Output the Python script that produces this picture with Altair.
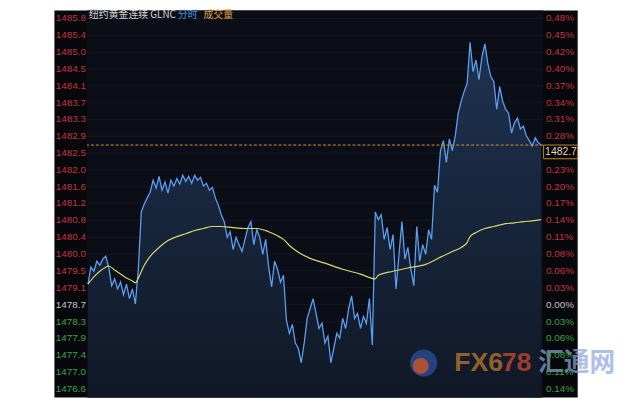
import altair as alt
import pandas as pd
import numpy as np

# ---- data ----
PRICE = [
    1479.21, 1479.63, 1479.53, 1479.78, 1479.68, 1479.83, 1479.90, 1479.63, 1479.17, 1479.34,
    1479.09, 1479.26, 1478.95, 1479.21, 1478.85, 1479.09, 1478.72, 1479.58, 1481.00, 1481.20,
    1481.35, 1481.49, 1481.79, 1481.59, 1481.88, 1481.54, 1481.74, 1481.47, 1481.79, 1481.64,
    1481.83, 1481.69, 1481.91, 1481.76, 1481.88, 1481.71, 1481.91, 1481.79, 1481.86, 1481.64,
    1481.71, 1481.54, 1481.61, 1481.35, 1481.17, 1480.93, 1480.76, 1480.37, 1480.51, 1480.07,
    1480.37, 1480.19, 1480.02, 1480.32, 1480.61, 1480.76, 1480.19, 1480.56, 1480.37, 1479.95,
    1480.32, 1479.63, 1479.14, 1479.78, 1479.58, 1479.26, 1479.43, 1478.31, 1477.99, 1478.21,
    1477.75, 1477.62, 1477.26, 1477.75, 1478.36, 1478.60, 1478.85, 1478.48, 1478.11, 1478.24,
    1477.75, 1477.92, 1477.26, 1477.62, 1477.99, 1477.87, 1478.36, 1478.11, 1478.60, 1478.92,
    1478.36, 1478.48, 1478.11, 1478.41, 1478.24, 1478.85, 1477.70, 1481.00, 1480.81, 1480.93,
    1480.32, 1480.61, 1480.07, 1480.44, 1479.09, 1479.95, 1480.76, 1479.83, 1480.12, 1479.58,
    1479.17, 1480.64, 1479.78, 1480.19, 1479.95, 1480.56, 1480.32, 1481.66, 1481.49, 1482.52,
    1482.77, 1482.23, 1482.81, 1482.52, 1482.89, 1483.45, 1483.75, 1483.99, 1484.19, 1485.21,
    1484.48, 1484.77, 1484.28, 1484.85, 1485.17, 1484.68, 1484.36, 1484.24, 1483.55, 1484.11,
    1483.75, 1483.55, 1483.45, 1482.96, 1483.21, 1483.33, 1483.06, 1483.13, 1482.89, 1482.77,
    1482.64, 1482.84, 1482.72, 1482.66,
]

AVG_IDX = [0, 2, 4, 6, 7, 9, 11, 13, 15, 16, 17, 19, 21, 24, 27, 30, 33, 36, 39, 42,
           45, 49, 53, 57, 61, 64, 66, 68, 71, 75, 80, 86, 92, 97, 98, 103, 108, 114, 119, 124,
           126, 128, 129, 131, 134, 137, 141, 144, 147, 150, 153]
AVG = [1479.21, 1479.39, 1479.53, 1479.63, 1479.66, 1479.56, 1479.46, 1479.36, 1479.29, 1479.24,
       1479.36, 1479.68, 1479.90, 1480.12, 1480.29, 1480.39, 1480.46, 1480.54, 1480.59, 1480.64,
       1480.64, 1480.61, 1480.59, 1480.59, 1480.51, 1480.41, 1480.32, 1480.17, 1480.00, 1479.85,
       1479.73, 1479.58, 1479.46, 1479.34, 1479.43, 1479.53, 1479.61, 1479.70, 1479.88, 1480.05,
       1480.12, 1480.24, 1480.39, 1480.49, 1480.59, 1480.64, 1480.71, 1480.73, 1480.76, 1480.78,
       1480.81]

TICK_PRICES = [1485.80, 1485.38, 1484.96, 1484.55, 1484.13, 1483.71, 1483.30, 1482.88,
               1482.46, 1482.04, 1481.62, 1481.21, 1480.79, 1480.37, 1479.95, 1479.54,
               1479.12, 1478.70, 1478.28, 1477.87, 1477.45, 1477.03, 1476.61]
LEFT_LABELS = ["1485.8", "1485.4", "1485.0", "1484.5", "1484.1", "1483.7", "1483.3", "1482.9",
               "1482.5", "1482.0", "1481.6", "1481.2", "1480.8", "1480.4", "1480.0", "1479.5",
               "1479.1", "1478.7", "1478.3", "1477.9", "1477.4", "1477.0", "1476.6"]
# the 0.25% label is hidden behind the last-price box in the reference
RIGHT_LABELS = ["0.48%", "0.45%", "0.42%", "0.40%", "0.37%", "0.34%", "0.31%", "0.28%",
                "", "0.23%", "0.20%", "0.17%", "0.14%", "0.11%", "0.08%", "0.06%",
                "0.03%", "0.00%", "0.03%", "0.06%", "0.08%", "0.11%", "0.14%"]

BASE = 1478.70
LAST_PRICE = 1482.66
LAST_LABEL = "1482.7"
TITLE_MAIN = "纽约黄金连续 GLNC"
TITLE_MODE = "分时"
TITLE_VOL = "成交量"

# ---- styling ----
W, H = 462, 392
Y_MIN, Y_MAX = 1476.398, 1485.998
RED, GREEN, NEUTRAL = "#c4343e", "#3aa548", "#c4c4c4"
LABEL_FONT = "Liberation Sans"

n = len(PRICE)
yscale = alt.Scale(domain=[Y_MIN, Y_MAX], zero=False, nice=False)
xscale = alt.Scale(domain=[-1 / 3, n - 1 + 2 / 3], zero=False, nice=False)

df = pd.DataFrame({"i": np.arange(n), "price": PRICE})
avg_df = pd.DataFrame({"i": AVG_IDX, "avg": AVG})
tick_df = pd.DataFrame({"p": TICK_PRICES, "left": LEFT_LABELS, "right": RIGHT_LABELS})
tick_df["col"] = np.where(tick_df["p"] > BASE + 0.01, RED,
                          np.where(tick_df["p"] < BASE - 0.01, GREEN, NEUTRAL))

one = pd.DataFrame({"k": [0]})

bg = alt.Chart(one).mark_rect(color="#07080b").encode(
    x=alt.value(-33), x2=alt.value(497), y=alt.value(0), y2=alt.value(H))
plotbg = alt.Chart(one).mark_rect(color="#0b0e16").encode(
    x=alt.value(0), x2=alt.value(W), y=alt.value(0), y2=alt.value(H))

grid = alt.Chart(tick_df).mark_rule(color="#131823", strokeWidth=1).encode(
    y=alt.Y("p:Q", scale=yscale, axis=None))

area = alt.Chart(df).mark_area(
    color=alt.Gradient(gradient="linear",
                       stops=[alt.GradientStop(color="#1e3250", offset=0),
                              alt.GradientStop(color="#101826", offset=1)],
                       x1=1, x2=1, y1=0, y2=1)
).encode(
    x=alt.X("i:Q", scale=xscale, axis=None),
    y=alt.Y("price:Q", scale=yscale, axis=None),
    y2=alt.datum(Y_MIN),
)

line = alt.Chart(df).mark_line(color="#5c9ef0", strokeWidth=1.3).encode(
    x=alt.X("i:Q", scale=xscale, axis=None),
    y=alt.Y("price:Q", scale=yscale, axis=None))

avg_line = alt.Chart(avg_df).mark_line(color="#d9d66c", strokeWidth=1.2, interpolate="monotone").encode(
    x=alt.X("i:Q", scale=xscale, axis=None),
    y=alt.Y("avg:Q", scale=yscale, axis=None))

last_df = pd.DataFrame({"p": [LAST_PRICE], "bot": [LAST_PRICE - 0.34],
                        "mid": [LAST_PRICE - 0.17], "lbl": [LAST_LABEL]})
dash = alt.Chart(last_df).mark_rule(color="#dc902c", strokeDash=[3, 2], strokeWidth=1).encode(
    y=alt.Y("p:Q", scale=yscale, axis=None))

left_lbl = alt.Chart(tick_df).mark_text(align="right", baseline="middle", font=LABEL_FONT,
                                        fontSize=10).encode(
    x=alt.value(-1), y=alt.Y("p:Q", scale=yscale, axis=None),
    text="left:N", color=alt.Color("col:N", scale=None))
right_lbl = alt.Chart(tick_df).mark_text(align="left", baseline="middle", font=LABEL_FONT,
                                         fontSize=10).encode(
    x=alt.value(W + 3), y=alt.Y("p:Q", scale=yscale, axis=None),
    text="right:N", color=alt.Color("col:N", scale=None))

box = alt.Chart(last_df).mark_rect(fill="#000000", stroke="#c98a2b", strokeWidth=1).encode(
    x=alt.value(W + 0.5), x2=alt.value(W + 35),
    y=alt.Y("p:Q", scale=yscale, axis=None), y2="bot:Q")
box_txt = alt.Chart(last_df).mark_text(align="left", baseline="middle", font=LABEL_FONT,
                                       fontSize=10.5, color="#ead9b4").encode(
    x=alt.value(W + 2), y=alt.Y("mid:Q", scale=yscale, axis=None), text="lbl:N")

def label(txt, x, color, size=10, font="Noto Sans CJK SC", weight="normal", y=5, opacity=1.0):
    return alt.Chart(pd.DataFrame({"t": [txt]})).mark_text(
        align="left", baseline="middle", font=font, fontSize=size, color=color,
        fontWeight=weight, opacity=opacity).encode(
        x=alt.value(x), y=alt.value(y), text="t:N")

t1 = label(TITLE_MAIN, 2, "#d4d4d4")
t2 = label(TITLE_MODE, 92, "#4d8fe0")
t3 = label(TITLE_VOL, 118, "#e0a03a")

# watermark
logo_outer = alt.Chart(one).mark_point(shape="circle", filled=True, color="#2b4c95",
                                       size=750, opacity=0.8).encode(
    x=alt.value(341), y=alt.value(357))
logo_inner = alt.Chart(one).mark_point(shape="circle", filled=True, color="#c2552c",
                                       size=260, opacity=0.85).encode(
    x=alt.value(338), y=alt.value(360))
wm1 = label("FX6", 372, "#a0692c", size=27, font="Liberation Sans", weight="bold", y=357, opacity=0.9)
wm2 = label("78", 420, "#ad412c", size=27, font="Liberation Sans", weight="bold", y=357, opacity=0.9)
wm3 = label("汇通网", 457, "#8ea5dc", size=26, weight="bold", y=357, opacity=0.7)

chart = alt.layer(
    bg, plotbg, grid, area, line, avg_line, dash, left_lbl,
    t1, t2, t3, logo_outer, logo_inner, wm1, wm2, wm3,
    right_lbl, box, box_txt,
).properties(
    width=W, height=H,
    autosize=alt.AutoSizeParams(type="none"),
    padding={"left": 80, "top": 0, "right": 90, "bottom": 0},
    background="white",
).configure_view(stroke="transparent")

chart.save("out.html", embed_options={"renderer": "svg", "actions": False})
